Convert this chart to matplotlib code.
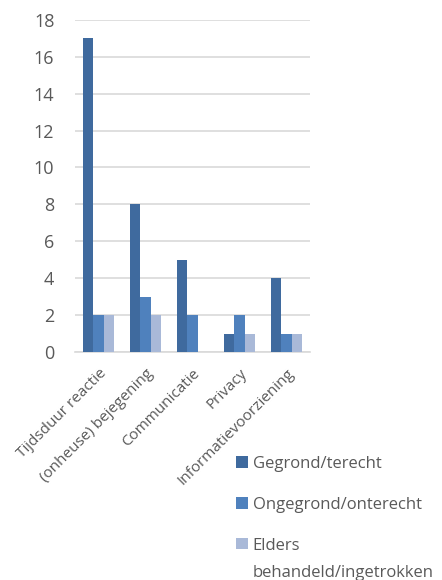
import numpy as np
import matplotlib.pyplot as plt
from matplotlib.transforms import ScaledTranslation

categories = ['Tijdsduur reactie', '(onheuse) bejegening', 'Communicatie',
              'Privacy', 'Informatievoorziening']
gegrond = [17, 8, 5, 1, 4]
ongegrond = [2, 3, 2, 2, 1]
elders = [2, 2, 0, 1, 1]
series_names = ['Gegrond/terecht', 'Ongegrond/onterecht',
                'Elders\nbehandeld/ingetrokken']
y_ticks = [0, 2, 4, 6, 8, 10, 12, 14, 16, 18]

colors = ['#3f6a9e', '#4f81bd', '#a9b9d8']
text_color = '#595959'

plt.rcParams['font.family'] = ['Open Sans', 'DejaVu Sans']

fig = plt.figure(figsize=(4.42, 5.80), dpi=100)
ax = fig.add_axes([0.170, 0.393, 0.531, 0.573])

x = np.arange(len(categories))
width = 0.22
for i, (vals, name) in enumerate(zip([gegrond, ongegrond, elders], series_names)):
    ax.bar(x + (i - 1) * width, vals, width, color=colors[i], label=name, zorder=3)

ax.set_xlim(-0.5, len(categories) - 0.5)
ax.set_ylim(0, 18)
ax.set_yticks(y_ticks)
ax.yaxis.grid(True, color='#d9d9d9', linewidth=1.2, zorder=0)
for s in ['top', 'right', 'left']:
    ax.spines[s].set_visible(False)
ax.spines['bottom'].set_color('#d9d9d9')
ax.spines['bottom'].set_linewidth(1.2)
ax.tick_params(axis='y', length=0, labelsize=13, labelcolor=text_color, pad=15)
ax.tick_params(axis='x', length=0, labelsize=11, labelcolor=text_color, pad=14)
ax.set_xticks(x)
ax.set_xticklabels(categories, rotation=45, ha='right', va='center',
                   rotation_mode='anchor')
shift = ScaledTranslation(4 / 72, 0, fig.dpi_scale_trans)
for lbl in ax.get_xticklabels():
    lbl.set_transform(lbl.get_transform() + shift)

leg = fig.legend(loc='upper left', bbox_to_anchor=(0.50, 0.24), frameon=False,
                 fontsize=12, labelcolor=text_color, handlelength=0.7,
                 handleheight=0.7, handletextpad=0.3, labelspacing=1.5)
leg.get_texts()[2].set_linespacing(1.95)
# marker next to the first line of the two-line entry
leg._legend_handle_box.get_children()[0].get_children()[2].align = 'top'

fig.savefig('out.png', dpi=100)
